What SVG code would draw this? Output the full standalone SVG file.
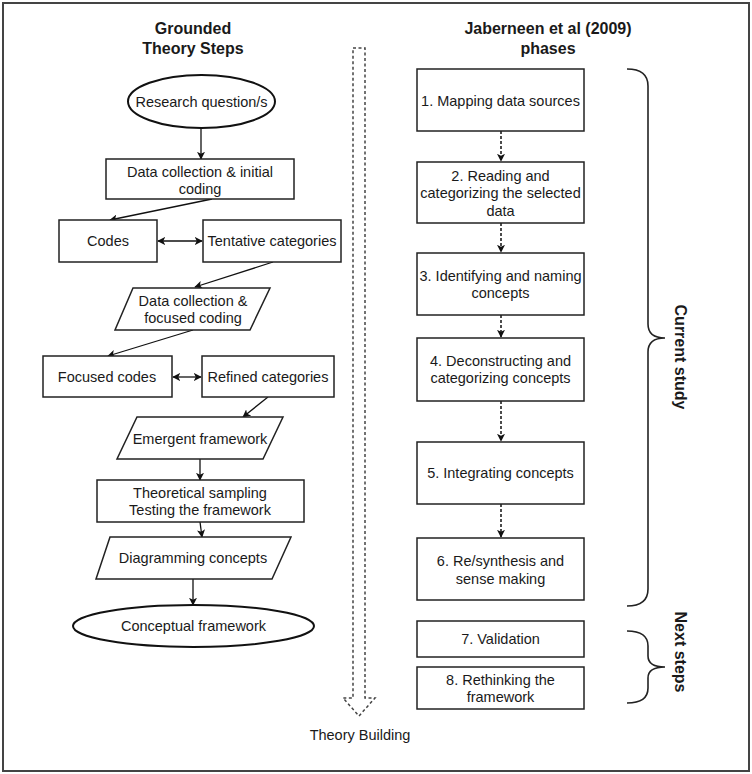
<svg xmlns="http://www.w3.org/2000/svg" width="752" height="774" viewBox="0 0 752 774">
<defs>
<marker id="ah" viewBox="0 0 10 10" refX="9" refY="5" markerWidth="8" markerHeight="8" markerUnits="userSpaceOnUse" orient="auto-start-reverse">
<path d="M0,0 L10,5 L0,10 L2.5,5 z" fill="#111"/>
</marker>
</defs>
<style>
text{font-family:"Liberation Sans",Arial,sans-serif;font-size:14.5px;fill:#1a1a1a;text-anchor:middle;dominant-baseline:central}
.t{font-weight:bold;font-size:16px}
.b{fill:#fff;stroke:#222;stroke-width:1.5}
.e{fill:#fff;stroke:#111;stroke-width:2}
.c{fill:none;stroke:#111;stroke-width:1.3}
.d{fill:none;stroke:#111;stroke-width:1.5;stroke-dasharray:3,2}
.br{fill:none;stroke:#222;stroke-width:1.6}
</style>
<rect x="3" y="3" width="746" height="768" fill="#fff" stroke="#444" stroke-width="2"/>
<g id="titles">
<text class="t" x="193" y="28">Grounded</text>
<text class="t" x="193" y="48">Theory Steps</text>
<text class="t" x="548" y="28">Jaberneen et al (2009)</text>
<text class="t" x="548" y="48">phases</text>
</g>
<g id="theory-building">
<path d="M353,48 L365,48 L365,698 L375,698 L359,716 L343,698 L353,698 Z" fill="none" stroke="#444" stroke-width="1.5" stroke-dasharray="3,2.5"/>
<text x="360" y="735">Theory Building</text>
</g>
<g id="connectors">
<line class="c" x1="201" y1="128" x2="201" y2="159" marker-end="url(#ah)"/>
<line class="c" x1="212" y1="199" x2="110" y2="220" marker-end="url(#ah)"/>
<line class="c" x1="158" y1="241" x2="202" y2="241" marker-start="url(#ah)" marker-end="url(#ah)"/>
<line class="c" x1="273" y1="262" x2="195" y2="287" marker-end="url(#ah)"/>
<line class="c" x1="193" y1="330" x2="108" y2="356" marker-end="url(#ah)"/>
<line class="c" x1="173" y1="377" x2="201" y2="377" marker-start="url(#ah)" marker-end="url(#ah)"/>
<line class="c" x1="268" y1="397" x2="243" y2="417" marker-end="url(#ah)"/>
<line class="c" x1="200" y1="459" x2="200" y2="480" marker-end="url(#ah)"/>
<line class="c" x1="200" y1="522" x2="202" y2="537" marker-end="url(#ah)"/>
<line class="c" x1="193" y1="579" x2="193" y2="605" marker-end="url(#ah)"/>
<line class="d" x1="501" y1="131" x2="501" y2="161" marker-end="url(#ah)"/>
<line class="d" x1="501" y1="223" x2="501" y2="252" marker-end="url(#ah)"/>
<line class="d" x1="501" y1="315" x2="501" y2="337" marker-end="url(#ah)"/>
<line class="d" x1="501" y1="401" x2="501" y2="441" marker-end="url(#ah)"/>
<line class="d" x1="501" y1="504" x2="501" y2="537" marker-end="url(#ah)"/>
</g>
<g id="research-question">
<ellipse class="e" cx="201.5" cy="101.5" rx="73.5" ry="26.5"/>
<text x="201.5" y="101.5">Research question/s</text>
</g>
<g id="data-collection-initial">
<rect class="b" x="106" y="159" width="188" height="40"/>
<text x="200" y="172">Data collection &amp; initial</text>
<text x="200" y="189">coding</text>
</g>
<g id="codes">
<rect class="b" x="59" y="220" width="98" height="42"/>
<text x="108" y="241">Codes</text>
</g>
<g id="tentative-categories">
<rect class="b" x="203" y="220" width="138" height="42"/>
<text x="272" y="241">Tentative categories</text>
</g>
<g id="data-collection-focused">
<polygon class="b" points="133,288 270,288 250,330 115,330"/>
<text x="193" y="301">Data collection &amp;</text>
<text x="193" y="318">focused coding</text>
</g>
<g id="focused-codes">
<rect class="b" x="43" y="356" width="129" height="41"/>
<text x="107" y="377">Focused codes</text>
</g>
<g id="refined-categories">
<rect class="b" x="202" y="356" width="132" height="41"/>
<text x="268" y="377">Refined categories</text>
</g>
<g id="emergent-framework">
<polygon class="b" points="137,417 283,417 263,459 117,459"/>
<text x="200" y="439">Emergent framework</text>
</g>
<g id="theoretical-sampling">
<rect class="b" x="97" y="480" width="207" height="42"/>
<text x="200" y="493">Theoretical sampling</text>
<text x="200" y="510">Testing the framework</text>
</g>
<g id="diagramming-concepts">
<polygon class="b" points="110,537 291,537 272,579 96,579"/>
<text x="193" y="558">Diagramming concepts</text>
</g>
<g id="conceptual-framework">
<ellipse class="e" cx="193.5" cy="626" rx="120.5" ry="21"/>
<text x="193.5" y="626">Conceptual framework</text>
</g>
<g id="phase1">
<rect class="b" x="417" y="69" width="167" height="62"/>
<text x="500.5" y="101">1. Mapping data sources</text>
</g>
<g id="phase2">
<rect class="b" x="417" y="162" width="167" height="61"/>
<text x="500.5" y="176">2. Reading and</text>
<text x="500.5" y="193">categorizing the selected</text>
<text x="500.5" y="211">data</text>
</g>
<g id="phase3">
<rect class="b" x="417" y="253" width="167" height="62"/>
<text x="500.5" y="276">3. Identifying and naming</text>
<text x="500.5" y="293">concepts</text>
</g>
<g id="phase4">
<rect class="b" x="417" y="338" width="167" height="63"/>
<text x="500.5" y="361">4. Deconstructing and</text>
<text x="500.5" y="378">categorizing concepts</text>
</g>
<g id="phase5">
<rect class="b" x="417" y="442" width="167" height="62"/>
<text x="500.5" y="473">5. Integrating concepts</text>
</g>
<g id="phase6">
<rect class="b" x="417" y="538" width="167" height="62"/>
<text x="500.5" y="561">6. Re/synthesis and</text>
<text x="500.5" y="579">sense making</text>
</g>
<g id="phase7">
<rect class="b" x="417" y="621" width="167" height="36"/>
<text x="500.5" y="639">7. Validation</text>
</g>
<g id="phase8">
<rect class="b" x="417" y="667" width="167" height="42"/>
<text x="500.5" y="680">8. Rethinking the</text>
<text x="500.5" y="697">framework</text>
</g>
<g id="current-study">
<path class="br" d="M627,69 Q648,69 648,86 L648,324 Q648,338 665,338 Q648,338 648,352 L648,589 Q648,606 627,606"/>
<text class="t" transform="translate(680,357) rotate(90)">Current study</text>
</g>
<g id="next-steps">
<path class="br" d="M627,631 Q648,631 648,646 L648,656 Q648,667 665,667 Q648,667 648,678 L648,688 Q648,703 627,703"/>
<text class="t" transform="translate(680,652) rotate(90)">Next steps</text>
</g>
</svg>
